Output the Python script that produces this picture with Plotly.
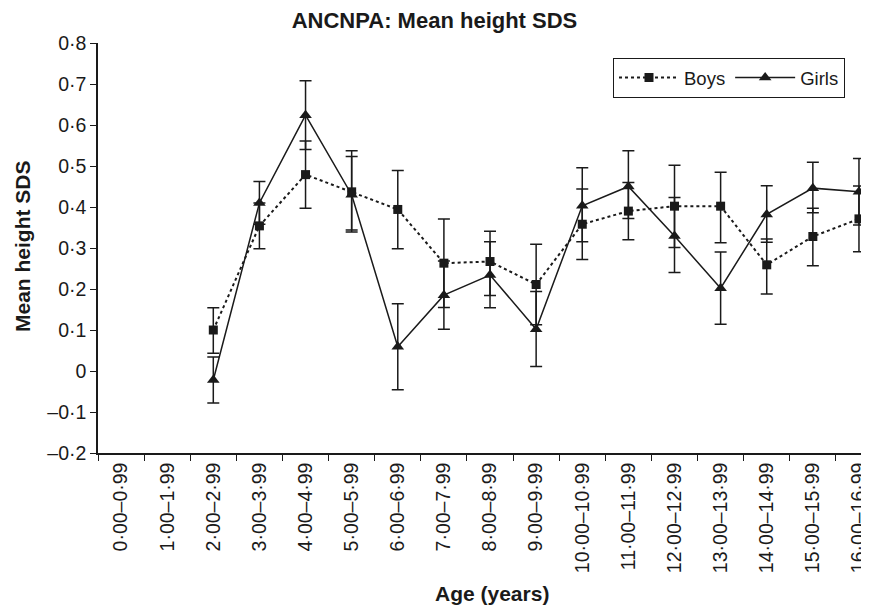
import plotly.graph_objects as go

age_groups = ["0·00–0·99", "1·00–1·99", "2·00–2·99", "3·00–3·99", "4·00–4·99",
              "5·00–5·99", "6·00–6·99", "7·00–7·99", "8·00–8·99", "9·00–9·99",
              "10·00–10·99", "11·00–11·99", "12·00–12·99", "13·00–13·99",
              "14·00–14·99", "15·00–15·99", "16·00–16·99"]

boys_mean = [None, None, 0.100, 0.354, 0.479, 0.437, 0.394, 0.263, 0.267, 0.211,
             0.358, 0.390, 0.402, 0.402, 0.259, 0.328, 0.371]
boys_upper = [None, None, 0.154, 0.410, 0.561, 0.537, 0.489, 0.371, 0.341, 0.309,
              0.444, 0.460, 0.502, 0.485, 0.322, 0.397, 0.451]
boys_lower = [None, None, 0.043, 0.298, 0.397, 0.339, 0.298, 0.155, 0.184, 0.113,
              0.272, 0.320, 0.301, 0.313, 0.188, 0.257, 0.291]

girls_mean = [None, None, -0.022, 0.410, 0.624, 0.430, 0.059, 0.185, 0.234, 0.102,
              0.403, 0.450, 0.329, 0.202, 0.382, 0.446, 0.437]
girls_upper = [None, None, 0.034, 0.462, 0.708, 0.523, 0.164, 0.268, 0.315, 0.194,
               0.496, 0.537, 0.423, 0.290, 0.452, 0.509, 0.518]
girls_lower = [None, None, -0.078, 0.358, 0.540, 0.344, -0.046, 0.102, 0.154, 0.011,
               0.315, 0.372, 0.240, 0.114, 0.314, 0.386, 0.356]

y_tickvals = [-0.2, -0.1, 0, 0.1, 0.2, 0.3, 0.4, 0.5, 0.6, 0.7, 0.8]
y_ticktext = ["–0·2", "–0·1", "0", "0·1", "0·2", "0·3", "0·4", "0·5", "0·6", "0·7", "0·8"]


def err(mean, hi, lo):
    plus = [None if m is None else h - m for m, h in zip(mean, hi)]
    minus = [None if m is None else m - l for m, l in zip(mean, lo)]
    return plus, minus


FONT = "Liberation Sans, Arial, sans-serif"
INK = "#1a1a1a"
bp, bm = err(boys_mean, boys_upper, boys_lower)
gp, gm = err(girls_mean, girls_upper, girls_lower)

fig = go.Figure()
fig.add_trace(go.Scatter(
    x=age_groups, y=boys_mean, name="Boys", mode="lines+markers",
    line=dict(color=INK, width=2, dash="dot"),
    marker=dict(symbol="square", size=9, color=INK),
    error_y=dict(type="data", symmetric=False, array=bp, arrayminus=bm,
                 color=INK, thickness=1.5, width=6),
))
fig.add_trace(go.Scatter(
    x=age_groups, y=girls_mean, name="Girls", mode="lines+markers",
    line=dict(color=INK, width=1.5),
    marker=dict(symbol="triangle-up", size=11, color=INK),
    error_y=dict(type="data", symmetric=False, array=gp, arrayminus=gm,
                 color=INK, thickness=1.5, width=6),
))

# page body has an 8px margin: compensate so the screen layout matches
OFF = 8
SW, SH = 869, 610                 # screen size
W, H = SW - OFF, SH - OFF         # figure size
PL, PR, PT, PB = 98, 869, 43, 453  # plot area on screen
pw = PR - PL
ph = PB - PT
L, T = PL - OFF, PT - OFF
R = SW - PR
Bm = H - T - ph


def px(x):
    return (x - PL) / pw


def py(y):
    return (PB - y) / ph


fig.update_layout(
    width=W, height=H,
    margin=dict(l=L, r=R, t=T, b=Bm, autoexpand=False),
    paper_bgcolor="white", plot_bgcolor="white",
    font=dict(family=FONT, color=INK, size=18),
    title=dict(text="<b>ANCNPA: Mean height SDS</b>", x=(434.5 - OFF) / W,
               xref="container", xanchor="center", y=1 - (20 - OFF) / H,
               yref="container", yanchor="middle",
               font=dict(size=22, family=FONT, color=INK)),
    showlegend=True,
    legend=dict(orientation="h", x=px(845), xanchor="right",
                y=py(58), yanchor="top",
                bordercolor=INK, borderwidth=1, bgcolor="white",
                font=dict(size=18.5, family=FONT, color=INK),
                itemwidth=60, tracegroupgap=0),
    xaxis=dict(type="category", categoryorder="array", categoryarray=age_groups,
               range=[-0.5, 16.5 - 13 / 46], showline=True, linecolor=INK,
               linewidth=1.5, ticks="outside", tickson="boundaries", ticklen=6,
               tickcolor=INK, tickwidth=1.2, tickangle=-90, showgrid=False,
               automargin=False,
               tickfont=dict(size=19.5, family=FONT, color=INK)),
    yaxis=dict(range=[-0.2, 0.8], tickvals=y_tickvals, ticktext=y_ticktext,
               showline=True, linecolor=INK, linewidth=1.5, ticks="outside",
               ticklen=6, tickcolor=INK, tickwidth=1.2, showgrid=False,
               zeroline=False, automargin=False,
               tickfont=dict(size=19.5, family=FONT, color=INK)),
    annotations=[
        dict(text="<b>Mean height SDS</b>", textangle=-90, xref="paper", yref="paper",
             x=px(22), y=py(246), xanchor="center", yanchor="middle",
             showarrow=False, font=dict(size=21, family=FONT, color=INK)),
        dict(text="<b>Age (years)</b>", xref="paper", yref="paper",
             x=px(492), y=py(593), xanchor="center", yanchor="middle",
             showarrow=False, font=dict(size=21, family=FONT, color=INK)),
    ],
)

fig.write_html("out.html")
